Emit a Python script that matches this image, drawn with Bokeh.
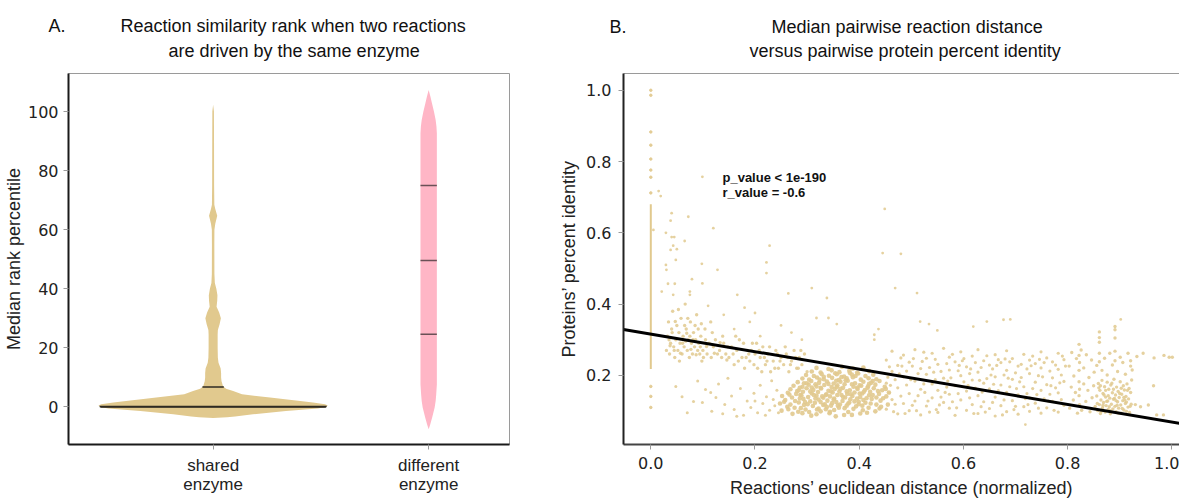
import numpy as np
from bokeh.plotting import figure
from bokeh.models import Range1d, FixedTicker, Label, LinearAxis, Title
from bokeh.layouts import row
from bokeh.embed import file_html
from bokeh.resources import INLINE

TAN = "#e1c98e"
PINK = "#ffb6c6"
NBSP = "\u00a0"

# ---------------- Panel A data ----------------
category_positions = [0, 1]
category_labels = ["shared\nenzyme", "different\nenzyme"]
a_yticks = [0, 20, 40, 60, 80, 100]

shared_levels = [-3.7, -3.5, -3.2, -2.5, -1.4, -0.5, 0.0, 0.5, 0.9, 1.5, 2.1, 3.2, 4.3, 5.4, 6.2, 7.0, 8.7,
                 10, 11.5, 13, 15, 16.7, 20, 24.5, 26.1, 28, 30, 32, 33.9, 36, 37.8, 40, 42, 45, 55, 60, 62,
                 64.7, 67, 68.5, 75, 90, 100, 102.3]
shared_halfwidth = [0, 0.065, 0.102, 0.185, 0.338, 0.486, 0.523, 0.532, 0.519, 0.463, 0.394, 0.264, 0.134,
                    0.093, 0.060, 0.046, 0.039, 0.037, 0.037, 0.035, 0.025, 0.022, 0.021, 0.021, 0.022, 0.030,
                    0.036, 0.028, 0.016, 0.019, 0.020, 0.015, 0.008, 0.006, 0.0056, 0.006, 0.010, 0.019, 0.010,
                    0.0056, 0.0046, 0.0042, 0.0037, 0]
shared_quartiles = [0.0, 0.2, 6.8]

different_levels = [-7.5, -6, -3.6, -0.2, 2, 4.2, 7.6, 92.7, 95, 97.2, 100, 102.8, 105, 107.3]
different_halfwidth = [0, 0.0069, 0.0162, 0.0278, 0.0324, 0.035, 0.038, 0.038, 0.036, 0.0324, 0.0245,
                       0.0153, 0.0083, 0]
different_quartiles = [24.6, 49.6, 75.0]

# ---------------- Panel B data ----------------
b_xticks = [0.0, 0.2, 0.4, 0.6, 0.8, 1.0]
b_yticks = [0.2, 0.4, 0.6, 0.8, 1.0]
reg_intercept = 0.316
reg_slope = -0.247
p_text = "p_value < 1e-190"
r_text = "r_value = -0.6"

zero_strip_x = [0.0]
zero_strip_low = [0.218]
zero_strip_high = [0.68]
zero_column_y = [1.0, 0.986, 0.883, 0.846, 0.807, 0.776, 0.756, 0.712, 0.169, 0.141, 0.110]

outlier_pts = [(0.015, 0.717), (0.019, 0.703), (0.099, 0.757), (0.449, 0.667), (0.040, 0.655), (0.072, 0.645),
               (0.038, 0.634), (0.005, 0.608), (0.120, 0.613), (0.029, 0.600), (0.040, 0.588), (0.045, 0.588),
               (0.065, 0.577), (0.043, 0.564), (0.038, 0.552), (0.050, 0.554), (0.228, 0.564), (0.445, 0.543),
               (0.029, 0.510), (0.048, 0.524), (0.098, 0.513), (0.030, 0.496), (0.128, 0.496), (0.222, 0.517),
               (0.222, 0.487), (0.079, 0.470), (0.033, 0.457), (0.046, 0.457), (0.099, 0.458), (0.021, 0.435),
               (0.075, 0.435), (0.075, 0.426), (0.043, 0.426), (0.166, 0.426), (0.264, 0.430), (0.480, 0.541),
               (0.309, 0.445), (0.469, 0.445), (0.511, 0.431), (0.338, 0.417), (0.318, 0.361), (0.341, 0.361),
               (0.357, 0.344), (0.517, 0.351), (0.534, 0.344), (0.550, 0.326), (0.619, 0.337), (0.645, 0.351),
               (0.437, 0.330), (0.429, 0.314), (0.429, 0.300), (0.677, 0.356), (0.690, 0.357), (0.902, 0.357),
               (0.719, 0.062), (0.160, 0.330), (0.190, 0.350), (0.210, 0.310), (0.250, 0.340), (0.180, 0.390),
               (0.270, 0.320), (0.290, 0.300), (0.140, 0.370), (0.110, 0.395), (0.200, 0.375)]

left_cluster_pts = [(0.030, 0.27), (0.032, 0.31), (0.034, 0.35), (0.036, 0.26), (0.038, 0.29), (0.040, 0.33),
                    (0.042, 0.38), (0.044, 0.28), (0.046, 0.25), (0.048, 0.30), (0.050, 0.34), (0.052, 0.27),
                    (0.054, 0.32), (0.056, 0.29), (0.058, 0.36), (0.060, 0.26), (0.062, 0.31), (0.064, 0.28),
                    (0.066, 0.40), (0.068, 0.33), (0.070, 0.27), (0.072, 0.30), (0.074, 0.25), (0.076, 0.35),
                    (0.078, 0.29), (0.080, 0.26), (0.082, 0.32), (0.084, 0.28), (0.086, 0.30), (0.088, 0.37),
                    (0.090, 0.27), (0.092, 0.29), (0.094, 0.26), (0.096, 0.31), (0.098, 0.24), (0.100, 0.27),
                    (0.104, 0.33), (0.108, 0.26), (0.112, 0.29), (0.116, 0.25), (0.120, 0.28), (0.124, 0.30),
                    (0.128, 0.26), (0.132, 0.27), (0.136, 0.25), (0.140, 0.29), (0.144, 0.26), (0.148, 0.28),
                    (0.035, 0.30), (0.045, 0.27), (0.055, 0.24), (0.065, 0.34), (0.075, 0.31), (0.085, 0.34),
                    (0.095, 0.28), (0.105, 0.30), (0.041, 0.32), (0.061, 0.29), (0.071, 0.36), (0.081, 0.30),
                    (0.091, 0.33), (0.101, 0.25), (0.118, 0.32), (0.138, 0.31), (0.115, 0.35), (0.037, 0.283),
                    (0.047, 0.351), (0.057, 0.262), (0.067, 0.296), (0.077, 0.273), (0.087, 0.258), (0.097, 0.345),
                    (0.107, 0.281), (0.122, 0.262), (0.133, 0.292), (0.146, 0.243), (0.053, 0.385), (0.069, 0.318)]

line_band_pts = [(0.150, 0.25), (0.155, 0.28), (0.160, 0.23), (0.165, 0.27), (0.170, 0.30), (0.175, 0.25),
                 (0.180, 0.22), (0.185, 0.27), (0.190, 0.24), (0.195, 0.29), (0.200, 0.26), (0.205, 0.22),
                 (0.210, 0.25), (0.215, 0.28), (0.220, 0.23), (0.225, 0.26), (0.230, 0.21), (0.235, 0.24),
                 (0.240, 0.27), (0.245, 0.22), (0.250, 0.25), (0.255, 0.23), (0.260, 0.26), (0.265, 0.21),
                 (0.270, 0.24), (0.275, 0.27), (0.280, 0.22), (0.285, 0.25), (0.290, 0.23), (0.295, 0.26),
                 (0.300, 0.21), (0.158, 0.26), (0.168, 0.24), (0.178, 0.29), (0.188, 0.26), (0.198, 0.23),
                 (0.208, 0.27), (0.218, 0.25), (0.228, 0.28), (0.238, 0.22), (0.248, 0.24), (0.258, 0.28),
                 (0.268, 0.23), (0.278, 0.25), (0.288, 0.27), (0.163, 0.31), (0.183, 0.25), (0.203, 0.29),
                 (0.223, 0.24), (0.243, 0.26), (0.263, 0.25), (0.283, 0.22), (0.213, 0.21), (0.193, 0.27)]

main_blob_pts = [(0.272, 0.092), (0.308, 0.087), (0.343, 0.094), (0.371, 0.089), (0.402, 0.093), (0.355, 0.085),
                 (0.251, 0.101), (0.283, 0.098), (0.297, 0.104), (0.326, 0.099), (0.352, 0.103), (0.379, 0.097),
                 (0.407, 0.102), (0.431, 0.099),
                 (0.262, 0.112), (0.288, 0.108), (0.311, 0.114), (0.322, 0.107), (0.338, 0.111), (0.359, 0.115),
                 (0.372, 0.108), (0.394, 0.113), (0.418, 0.109), (0.442, 0.112),
                 (0.248, 0.121), (0.268, 0.118), (0.284, 0.124), (0.301, 0.119), (0.315, 0.123), (0.331, 0.117),
                 (0.348, 0.122), (0.363, 0.118), (0.381, 0.124), (0.399, 0.119), (0.412, 0.123), (0.433, 0.118),
                 (0.258, 0.131), (0.277, 0.128), (0.293, 0.134), (0.306, 0.127), (0.322, 0.132), (0.339, 0.129),
                 (0.352, 0.135), (0.368, 0.128), (0.383, 0.133), (0.391, 0.127), (0.408, 0.131), (0.424, 0.134),
                 (0.441, 0.129),
                 (0.252, 0.142), (0.271, 0.138), (0.289, 0.144), (0.302, 0.139), (0.318, 0.143), (0.331, 0.137),
                 (0.344, 0.141), (0.358, 0.145), (0.373, 0.138), (0.387, 0.142), (0.402, 0.139), (0.419, 0.144),
                 (0.433, 0.138), (0.452, 0.141),
                 (0.263, 0.151), (0.279, 0.148), (0.292, 0.154), (0.309, 0.149), (0.321, 0.153), (0.337, 0.147),
                 (0.349, 0.152), (0.362, 0.155), (0.377, 0.148), (0.391, 0.152), (0.406, 0.149), (0.421, 0.154),
                 (0.438, 0.148), (0.457, 0.152),
                 (0.268, 0.161), (0.284, 0.158), (0.299, 0.164), (0.312, 0.159), (0.327, 0.163), (0.341, 0.157),
                 (0.353, 0.162), (0.369, 0.165), (0.382, 0.158), (0.397, 0.162), (0.411, 0.159), (0.428, 0.164),
                 (0.444, 0.158),
                 (0.274, 0.171), (0.291, 0.168), (0.303, 0.174), (0.318, 0.169), (0.333, 0.173), (0.347, 0.167),
                 (0.358, 0.172), (0.372, 0.175), (0.389, 0.168), (0.401, 0.172), (0.417, 0.169), (0.431, 0.174),
                 (0.449, 0.168),
                 (0.282, 0.181), (0.294, 0.178), (0.308, 0.184), (0.323, 0.179), (0.338, 0.183), (0.351, 0.177),
                 (0.364, 0.182), (0.378, 0.185), (0.392, 0.178), (0.408, 0.182), (0.423, 0.179), (0.439, 0.184),
                 (0.291, 0.191), (0.304, 0.188), (0.319, 0.194), (0.332, 0.189), (0.348, 0.193), (0.361, 0.187),
                 (0.376, 0.192), (0.388, 0.195), (0.403, 0.188), (0.418, 0.192), (0.433, 0.189),
                 (0.298, 0.201), (0.313, 0.198), (0.328, 0.204), (0.342, 0.199), (0.357, 0.203), (0.371, 0.197),
                 (0.386, 0.202), (0.398, 0.205), (0.412, 0.198), (0.427, 0.202),
                 (0.309, 0.211), (0.326, 0.208), (0.347, 0.214), (0.362, 0.209), (0.381, 0.213), (0.396, 0.207),
                 (0.419, 0.212), (0.318, 0.221), (0.341, 0.218), (0.367, 0.224), (0.388, 0.219), (0.408, 0.222),
                 (0.296, 0.125), (0.316, 0.135), (0.336, 0.145), (0.356, 0.125), (0.376, 0.155), (0.396, 0.135),
                 (0.326, 0.165), (0.346, 0.115), (0.366, 0.145), (0.386, 0.175), (0.306, 0.155), (0.416, 0.165),
                 (0.286, 0.135), (0.356, 0.185), (0.336, 0.105), (0.376, 0.115), (0.406, 0.115), (0.316, 0.175),
                 (0.346, 0.155), (0.366, 0.195), (0.326, 0.125), (0.396, 0.165), (0.286, 0.165), (0.426, 0.145),
                 (0.256, 0.126), (0.266, 0.146), (0.276, 0.109), (0.281, 0.156), (0.294, 0.117), (0.299, 0.178),
                 (0.304, 0.097), (0.313, 0.145), (0.319, 0.104), (0.324, 0.188), (0.329, 0.141), (0.334, 0.119),
                 (0.341, 0.176), (0.344, 0.098), (0.351, 0.132), (0.354, 0.206), (0.361, 0.109), (0.364, 0.162),
                 (0.369, 0.139), (0.374, 0.186), (0.379, 0.121), (0.384, 0.147), (0.389, 0.106), (0.393, 0.198),
                 (0.399, 0.126), (0.404, 0.171), (0.409, 0.154), (0.414, 0.136), (0.422, 0.121), (0.426, 0.184),
                 (0.436, 0.156), (0.439, 0.107), (0.446, 0.136), (0.451, 0.162), (0.455, 0.118), (0.287, 0.145),
                 (0.309, 0.166), (0.332, 0.196), (0.357, 0.167), (0.382, 0.207), (0.401, 0.149), (0.419, 0.176),
                 (0.264, 0.105), (0.291, 0.094), (0.318, 0.091), (0.386, 0.089), (0.415, 0.095)]

low_sparse_pts = [(0.048, 0.169), (0.082, 0.127), (0.099, 0.124), (0.070, 0.095), (0.117, 0.099), (0.115, 0.152),
                  (0.130, 0.176), (0.142, 0.118), (0.155, 0.142), (0.160, 0.104), (0.172, 0.163), (0.178, 0.088),
                  (0.185, 0.128), (0.192, 0.110), (0.198, 0.150), (0.205, 0.095), (0.210, 0.172), (0.215, 0.121),
                  (0.222, 0.140), (0.228, 0.102), (0.232, 0.185), (0.238, 0.115), (0.242, 0.158), (0.148, 0.192),
                  (0.165, 0.085), (0.200, 0.128), (0.220, 0.088), (0.235, 0.132), (0.245, 0.095), (0.125, 0.138),
                  (0.105, 0.160), (0.090, 0.184), (0.060, 0.140), (0.138, 0.092)]

# columns: (x, [y values at that x])
mid_band_columns = [
    (0.452, [0.105, 0.178, 0.243]), (0.463, [0.132, 0.211, 0.268]), (0.474, [0.092, 0.165, 0.228]),
    (0.485, [0.121, 0.196, 0.257]), (0.496, [0.101, 0.149, 0.237]), (0.507, [0.128, 0.184, 0.272]),
    (0.518, [0.089, 0.161, 0.219]), (0.529, [0.114, 0.203, 0.248]), (0.540, [0.137, 0.176, 0.262]),
    (0.551, [0.096, 0.158, 0.231]), (0.562, [0.124, 0.192, 0.276]), (0.573, [0.108, 0.147, 0.215, 0.251]),
    (0.584, [0.088, 0.171, 0.238]), (0.595, [0.131, 0.199, 0.266]), (0.606, [0.102, 0.156, 0.224]),
    (0.617, [0.118, 0.187, 0.254]), (0.628, [0.093, 0.143, 0.209, 0.272]), (0.639, [0.126, 0.178, 0.241]),
    (0.650, [0.107, 0.162, 0.229]), (0.661, [0.086, 0.139, 0.196, 0.258]), (0.672, [0.115, 0.173, 0.236]),
    (0.683, [0.098, 0.152, 0.214, 0.269]), (0.694, [0.129, 0.189, 0.247]), (0.705, [0.091, 0.145, 0.226]),
    (0.716, [0.112, 0.168, 0.259]), (0.727, [0.099, 0.137, 0.205, 0.243]), (0.738, [0.122, 0.181, 0.233]),
    (0.749, [0.094, 0.158, 0.221, 0.266]), (0.760, [0.109, 0.174, 0.249]), (0.771, [0.127, 0.193, 0.238]),
    (0.782, [0.097, 0.151, 0.217, 0.262]), (0.793, [0.116, 0.183, 0.244]),
    (0.458, [0.151, 0.224]), (0.469, [0.188, 0.119]), (0.480, [0.142, 0.249]), (0.491, [0.173, 0.212]),
    (0.502, [0.116, 0.226]), (0.513, [0.205, 0.143]), (0.524, [0.176, 0.265]), (0.535, [0.097, 0.222]),
    (0.546, [0.188, 0.245]), (0.557, [0.139, 0.211]), (0.568, [0.167, 0.233]), (0.579, [0.126, 0.259]),
    (0.590, [0.149, 0.213]), (0.601, [0.182, 0.247]), (0.612, [0.137, 0.205]), (0.623, [0.164, 0.236]),
    (0.634, [0.112, 0.222]), (0.645, [0.191, 0.255]), (0.656, [0.124, 0.218]), (0.667, [0.157, 0.244]),
    (0.678, [0.131, 0.201]), (0.689, [0.168, 0.238]), (0.700, [0.113, 0.207]), (0.711, [0.194, 0.231]),
    (0.722, [0.149, 0.218]), (0.733, [0.163, 0.254]), (0.744, [0.108, 0.199]), (0.755, [0.134, 0.236]),
    (0.766, [0.147, 0.212]), (0.777, [0.165, 0.229]), (0.788, [0.132, 0.201])]

mid_band_extra_pts = [(0.455, 0.195), (0.466, 0.098), (0.477, 0.204), (0.488, 0.093), (0.499, 0.188),
                      (0.510, 0.101), (0.521, 0.239), (0.532, 0.128), (0.543, 0.209), (0.554, 0.117),
                      (0.565, 0.152), (0.576, 0.193), (0.587, 0.109), (0.598, 0.241), (0.609, 0.171),
                      (0.620, 0.093), (0.631, 0.186), (0.642, 0.097), (0.653, 0.201), (0.664, 0.228),
                      (0.675, 0.089), (0.686, 0.192), (0.697, 0.104), (0.708, 0.182), (0.719, 0.135),
                      (0.730, 0.227), (0.741, 0.146), (0.752, 0.196), (0.763, 0.128), (0.774, 0.102),
                      (0.785, 0.179), (0.796, 0.226), (0.460, 0.172), (0.482, 0.226), (0.504, 0.247),
                      (0.526, 0.152), (0.548, 0.104), (0.570, 0.184), (0.592, 0.228), (0.614, 0.218),
                      (0.636, 0.153), (0.658, 0.175), (0.680, 0.246), (0.702, 0.163), (0.724, 0.118),
                      (0.746, 0.245), (0.768, 0.171), (0.790, 0.254)]

right_cluster_pts = [
    (0.856, 0.142), (0.858, 0.101), (0.859, 0.177), (0.861, 0.118), (0.862, 0.158), (0.863, 0.093),
    (0.864, 0.131), (0.866, 0.186), (0.867, 0.109), (0.868, 0.149), (0.869, 0.124), (0.871, 0.168),
    (0.872, 0.097), (0.873, 0.139), (0.874, 0.115), (0.876, 0.181), (0.877, 0.128), (0.878, 0.104),
    (0.879, 0.161), (0.881, 0.136), (0.882, 0.092), (0.883, 0.173), (0.884, 0.119), (0.886, 0.151),
    (0.887, 0.106), (0.888, 0.133), (0.889, 0.189), (0.891, 0.113), (0.892, 0.145), (0.893, 0.098),
    (0.894, 0.167), (0.896, 0.126), (0.897, 0.155), (0.898, 0.108), (0.899, 0.138), (0.901, 0.182),
    (0.902, 0.117), (0.903, 0.094), (0.904, 0.147), (0.906, 0.129), (0.907, 0.171), (0.908, 0.103),
    (0.909, 0.159), (0.911, 0.121), (0.912, 0.141), (0.913, 0.099), (0.914, 0.176), (0.916, 0.111),
    (0.917, 0.134), (0.918, 0.163), (0.919, 0.096), (0.921, 0.152), (0.922, 0.119), (0.923, 0.187),
    (0.857, 0.121), (0.860, 0.165), (0.865, 0.099), (0.870, 0.145), (0.875, 0.127), (0.880, 0.112),
    (0.885, 0.178), (0.890, 0.135), (0.895, 0.116), (0.900, 0.149), (0.905, 0.107), (0.910, 0.131),
    (0.915, 0.158), (0.920, 0.113), (0.863, 0.171), (0.873, 0.158), (0.883, 0.101), (0.893, 0.129),
    (0.903, 0.164), (0.913, 0.125), (0.868, 0.116), (0.878, 0.143), (0.888, 0.161), (0.898, 0.094),
    (0.908, 0.138),
    (0.803, 0.226), (0.808, 0.264), (0.812, 0.198), (0.817, 0.247), (0.822, 0.287), (0.822, 0.214),
    (0.822, 0.256), (0.823, 0.236), (0.826, 0.271), (0.831, 0.221), (0.836, 0.258), (0.841, 0.194),
    (0.846, 0.243), (0.851, 0.209), (0.856, 0.228), (0.861, 0.262), (0.861, 0.293), (0.861, 0.306),
    (0.861, 0.322), (0.861, 0.238), (0.866, 0.214), (0.871, 0.248), (0.876, 0.201), (0.881, 0.262),
    (0.886, 0.229), (0.891, 0.305), (0.891, 0.328), (0.891, 0.337), (0.891, 0.268), (0.891, 0.241),
    (0.896, 0.211), (0.901, 0.251), (0.906, 0.236), (0.911, 0.203), (0.916, 0.262), (0.921, 0.226),
    (0.921, 0.241), (0.924, 0.215),
    (0.804, 0.108), (0.807, 0.167), (0.811, 0.131), (0.815, 0.152), (0.819, 0.094), (0.822, 0.143),
    (0.822, 0.182), (0.823, 0.118), (0.823, 0.161), (0.827, 0.102), (0.831, 0.176), (0.835, 0.127),
    (0.839, 0.158), (0.843, 0.098), (0.847, 0.137), (0.850, 0.171), (0.853, 0.113),
    (0.930, 0.118), (0.933, 0.253), (0.940, 0.112), (0.945, 0.262), (0.955, 0.117), (0.965, 0.171),
    (0.966, 0.249), (0.971, 0.089), (0.984, 0.089), (0.985, 0.256), (0.995, 0.251), (1.001, 0.251)]


def unzip(pts):
    return [p[0] for p in pts], [p[1] for p in pts]


def flatten_columns(cols):
    xs, ys = [], []
    for x, yl in cols:
        for y in yl:
            xs.append(x)
            ys.append(y)
    return xs, ys


def style_axis(ax, line_color):
    ax.axis_line_color = line_color
    ax.axis_line_width = 2
    ax.major_tick_line_color = "#9a9a9a"
    ax.major_tick_in = 0
    ax.major_tick_out = 5
    ax.minor_tick_line_color = None
    ax.major_label_text_font = "DejaVu Sans"
    ax.major_label_text_font_size = "16px"
    ax.major_label_text_color = "#222222"
    ax.axis_label_text_font = "Liberation Sans"
    ax.axis_label_text_font_size = "18px"
    ax.axis_label_text_font_style = "normal"
    ax.axis_label_text_color = "#222222"


# ---------------- Panel A ----------------
pA = figure(width=552, height=500, x_range=Range1d(-0.671, 1.375), y_range=Range1d(-12.7, 112.9),
            output_backend="svg", toolbar_location=None,
            min_border_left=67, min_border_right=43, min_border_top=73, min_border_bottom=53)
pA.grid.visible = False
pA.outline_line_color = "#9a9a9a"
pA.outline_line_width = 1

for pos, lv, hw, col in [(category_positions[0], shared_levels, shared_halfwidth, TAN),
                         (category_positions[1], different_levels, different_halfwidth, PINK)]:
    lv = np.array(lv, dtype=float)
    hw = np.array(hw, dtype=float)
    xs = np.concatenate([pos + hw, (pos - hw)[::-1]])
    ys = np.concatenate([lv, lv[::-1]])
    pA.patch(xs, ys, fill_color=col, line_color=None)

for pos, lv, hw, qs, qcol in [(category_positions[0], shared_levels, shared_halfwidth, shared_quartiles, "#2e2a22"),
                              (category_positions[1], different_levels, different_halfwidth, different_quartiles, "#6a5056")]:
    half = np.interp(qs, lv, hw)
    pA.segment(x0=pos - half, y0=qs, x1=pos + half, y1=qs, line_color=qcol, line_width=1.5)

xa = pA.below[0]
ya = pA.left[0]
style_axis(xa, "#1a1a1a")
style_axis(ya, "#1a1a1a")
xa.ticker = FixedTicker(ticks=category_positions)
xa.major_label_overrides = dict(zip(category_positions, category_labels))
xa.major_label_text_font = "Liberation Sans"
xa.major_label_text_font_size = "17px"
xa.major_label_text_line_height = 1.05
xa.major_label_standoff = 6
ya.ticker = FixedTicker(ticks=a_yticks)
ya.axis_label = "Median rank percentile"
ya.axis_label_standoff = 1
ya.major_label_standoff = 5

title_a = ("A." + NBSP * 11 + "Reaction similarity rank when two reactions" + "\n"
           + NBSP * 24 + "are driven by the same enzyme")
pA.add_layout(Title(text=title_a, align="left", offset=-20, text_font="Liberation Sans",
                    text_font_size="18px", text_font_style="normal", text_color="#111111",
                    text_line_height=1.28, standoff=24.5), "above")

# ---------------- Panel B ----------------
pB = figure(width=627, height=500, x_range=Range1d(-0.0524, 1.0148), y_range=Range1d(0.006, 1.047),
            output_backend="svg", toolbar_location=None,
            min_border_left=71, min_border_right=0, min_border_top=73, min_border_bottom=55)
pB.grid.visible = False
pB.outline_line_color = None

top_axis = LinearAxis(ticker=FixedTicker(ticks=[]), major_label_text_font_size="0px",
                      axis_line_color="#9a9a9a", axis_line_width=1, major_tick_line_color=None,
                      minor_tick_line_color=None, major_label_standoff=0)
pB.add_layout(top_axis, "above")

pB.segment(x0=zero_strip_x, y0=zero_strip_low, x1=zero_strip_x, y1=zero_strip_high,
           line_color=TAN, line_width=2)
pB.scatter([0.0] * len(zero_column_y), zero_column_y, size=2.5, color=TAN, alpha=0.9)

ox, oy = unzip(outlier_pts)
pB.scatter(ox, oy, size=2.8, color=TAN, alpha=0.85, line_color=None)
for pts, sz in [(left_cluster_pts, 3.4), (line_band_pts, 3.4), (low_sparse_pts, 3.0),
                (mid_band_extra_pts, 3.2), (right_cluster_pts, 3.4)]:
    xx, yy = unzip(pts)
    pB.scatter(xx, yy, size=sz, color=TAN, alpha=0.85, line_color=None)
bx, by = unzip(main_blob_pts)
pB.scatter(bx, by, size=4.6, color=TAN, alpha=0.9, line_color=None)
mx, my = flatten_columns(mid_band_columns)
pB.scatter(mx, my, size=3.2, color=TAN, alpha=0.85, line_color=None)

reg_x = np.array([-0.0524, 1.0148])
pB.line(reg_x, reg_intercept + reg_slope * reg_x, line_color="black", line_width=3)

pB.add_layout(Label(x=0.1376, y=0.756, text=p_text, text_align="left", text_baseline="middle",
                    text_font="Liberation Sans", text_font_style="bold", text_font_size="13px",
                    text_color="#111111"))
pB.add_layout(Label(x=0.1376, y=0.712, text=r_text, text_align="left", text_baseline="middle",
                    text_font="Liberation Sans", text_font_style="bold", text_font_size="13px",
                    text_color="#111111"))

xb = pB.below[0]
yb = pB.left[0]
style_axis(xb, "#444444")
style_axis(yb, "#222222")
xb.ticker = FixedTicker(ticks=b_xticks)
xb.major_label_overrides = {t: f"{t:.1f}" for t in b_xticks}
xb.major_label_standoff = 7
xb.axis_label = "Reactions\u2019 euclidean distance (normalized)"
xb.axis_label_standoff = 6
yb.ticker = FixedTicker(ticks=b_yticks)
yb.major_label_overrides = {t: f"{t:.1f}" for t in b_yticks}
yb.major_label_standoff = 7
yb.axis_label = "Proteins\u2019 percent identity"
yb.axis_label_standoff = 4

title_b = ("B." + NBSP * 29 + "Median pairwise reaction distance" + "\n"
           + NBSP * 28 + "versus pairwise protein percent identity")
pB.add_layout(Title(text=title_b, align="left", offset=-14, text_font="Liberation Sans",
                    text_font_size="18px", text_font_style="normal", text_color="#111111",
                    text_line_height=1.22, standoff=24), "above")

layout = row(pA, pB)
open("out.html", "w").write(file_html(layout, INLINE))
